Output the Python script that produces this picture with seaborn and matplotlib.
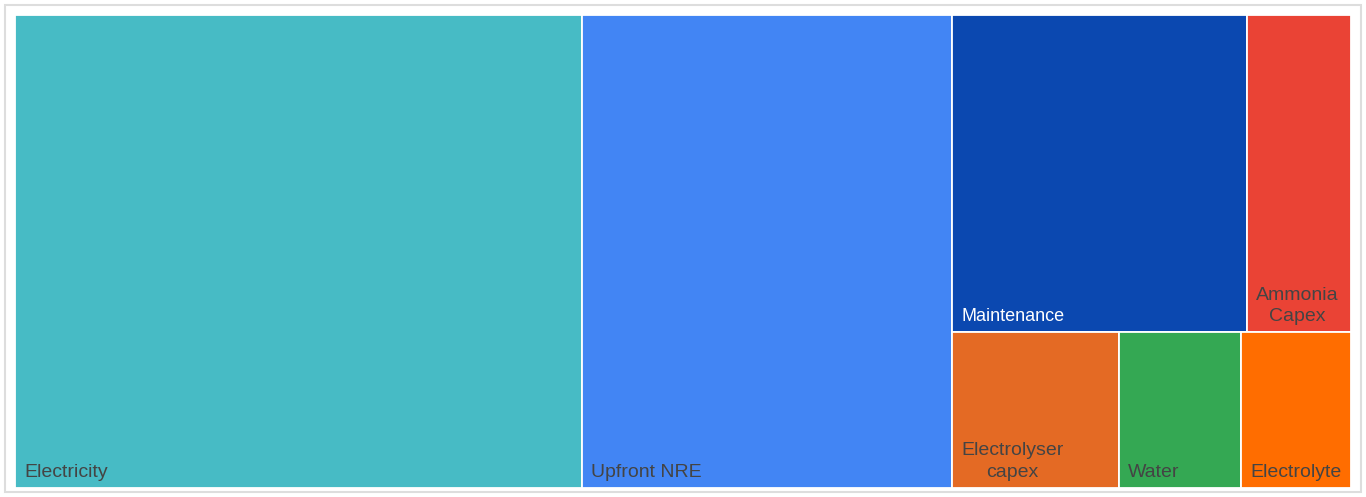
import matplotlib
matplotlib.use("Agg")
import matplotlib.pyplot as plt
from matplotlib.patches import Rectangle
import seaborn as sns

# ---- data ----
categories = ["Electricity", "Upfront NRE", "Maintenance", "Ammonia Capex",
              "Electrolyser capex", "Water", "Electrolyte"]
labels = ["Electricity", "Upfront NRE", "Maintenance", "Ammonia\nCapex",
          "Electrolyser\ncapex", "Water", "Electrolyte"]
values = [42.4, 27.7, 14.8, 5.2, 4.1, 3.0, 2.7]
colors = ["#47BBC5", "#4285F4", "#0B48B0", "#EA4335", "#E46A24", "#34A853", "#FF6D00"]
text_colors = ["#444444", "#444444", "#FFFFFF", "#444444", "#444444", "#444444", "#444444"]
label_sizes = [14, 14, 13, 14, 14, 14, 14]

# nesting of the layout (indices into categories): columns -> rows -> cells
layout = [[[0]], [[1]], [[2, 3], [4, 5, 6]]]

sns.set_theme(style="white")
plt.rcParams['font.family'] = ['Liberation Sans', 'DejaVu Sans']

W, H = 1366, 497
fig = plt.figure(figsize=(W / 100, H / 100), dpi=100)
ax = fig.add_axes([0, 0, 1, 1])
ax.set_xlim(0, W)
ax.set_ylim(H, 0)
ax.axis("off")

# outer frame
ax.add_patch(Rectangle((4.5, 4.5), 1356, 487.5, facecolor="white",
                       edgecolor="#DDDDDD", lw=1.5, zorder=0))

X0, Y0, AW, AH = 15, 15, 1336, 473
total = sum(values)
x = X0
for col in layout:
    col_sum = sum(values[i] for row in col for i in row)
    cw = AW * col_sum / total
    y = Y0
    for row in col:
        row_sum = sum(values[i] for i in row)
        rh = AH * row_sum / col_sum
        cx = x
        for i in row:
            w = cw * values[i] / row_sum
            ax.add_patch(Rectangle((cx, y), w, rh, facecolor=colors[i],
                                   edgecolor="white", lw=1.3, zorder=1))
            ax.text(cx + 9, y + rh - 7, labels[i], ha="left", va="bottom",
                    multialignment="center", color=text_colors[i],
                    fontsize=label_sizes[i], linespacing=1.35, zorder=2)
            cx += w
        y += rh
    x += cw

fig.savefig("out.png", dpi=100)
